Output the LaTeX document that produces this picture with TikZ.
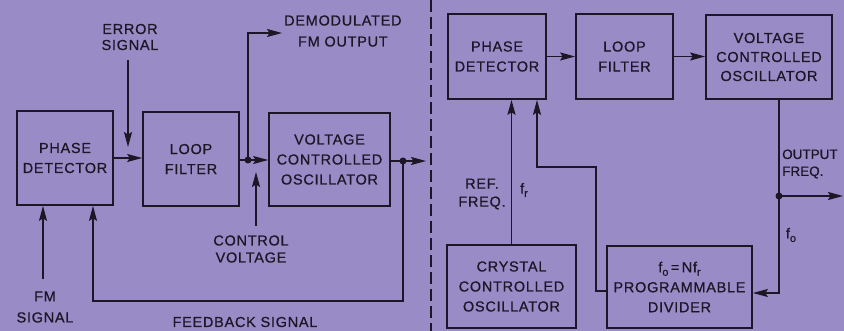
\documentclass[tikz,border=0pt]{standalone}
\usepackage{fontspec}
\setmainfont{Liberation Sans}[LetterSpace=5, FakeBold=0.6]
\usetikzlibrary{arrows.meta}
\definecolor{bg}{RGB}{153,139,198}
\definecolor{ink}{RGB}{28,22,38}
\newcommand\fz[1]{\fontsize{14.5}{#1}\selectfont}
\newcommand\sub[1]{\raisebox{-3.5pt}{\fontsize{11}{11}\selectfont #1}}
\tikzset{
  box/.style={draw=ink, line width=1.7pt, inner sep=0pt, align=center, text=ink, font=\fz{20}},
  wire/.style={draw=ink, line width=1.6pt},
  arr/.style={wire, -{Stealth[length=15pt,width=8pt,inset=2.5pt]}},
  lbl/.style={text=ink, align=center, inner sep=0pt, font=\fz{20}},
  dot/.style={circle, fill=ink, inner sep=0pt, minimum size=7pt},
}
\begin{document}
\begin{tikzpicture}[x=1pt,y=-1pt]
\fill[bg] (0,0) rectangle (844,331);
\useasboundingbox (0,0) rectangle (844,331);

% ---------- left: FM demodulator ----------
\node[box, minimum width=96pt, minimum height=94pt] (lpd) at (65,158) {PHASE\\DETECTOR};
\node[box, minimum width=96pt, minimum height=94pt] (llf) at (191,159) {LOOP\\FILTER};
\node[box, minimum width=121pt, minimum height=93pt] (lvco) at (329.5,159.5) {VOLTAGE\\CONTROLLED\\OSCILLATOR};

\coordinate (d1) at (248,160);
\coordinate (demo) at (282,33);
\coordinate (e0) at (128,60);
\coordinate (e1) at (128,147);
\coordinate (c0) at (256,226);
\coordinate (c1) at (256,172);
\coordinate (d2) at (403,161);
\coordinate (o1) at (426,161);
\coordinate (fbk) at (93,301);
\coordinate (fm) at (43,279);

\draw[arr] (lpd.east) -- (lpd.east -| llf.west);
\draw[arr] (llf.east |- d1) -- (lvco.west |- d1);
\draw[arr] (d1) -- (d1 |- demo) -- (demo);
\node[dot] (d1dot) at (d1) {};
\draw[arr] (e0) -- (e1);
\draw[arr] (c0) -- (c1);
\draw[arr] (lvco.east |- d2) -- (o1);
\node[dot] (d2dot) at (d2) {};
\draw[arr] (d2) -- (d2 |- fbk) -- (fbk) -- (fbk |- lpd.south);
\draw[arr] (fm) -- (fm |- lpd.south);

\node[lbl, font=\fz{21}, anchor=west] (demotxt) at (284,31) {DEMODULATED\\FM OUTPUT};
\node[lbl, font=\fz{16}] (errtxt) at (130,37) {ERROR\\SIGNAL};
\node[lbl, font=\fz{17}] (ctltxt) at (251,249) {CONTROL\\VOLTAGE};
\node[lbl, font=\fz{21}] (fmtxt) at (45,307) {FM\\SIGNAL};
\node[lbl] (fbtxt) at (245,322) {FEEDBACK SIGNAL};

% ---------- separator ----------
\draw[ink, line width=1.6pt, dash pattern=on 12pt off 5pt] (431,0) -- (431,331);

% ---------- right: frequency synthesizer ----------
\node[box, minimum width=98pt, minimum height=85pt] (rpd) at (497,56.5) {PHASE\\DETECTOR};
\node[box, minimum width=97pt, minimum height=85pt] (rlf) at (624.5,56.5) {LOOP\\FILTER};
\node[box, font=\fz{19}, minimum width=126pt, minimum height=84pt] (rvco) at (769,57) {VOLTAGE\\CONTROLLED\\OSCILLATOR};
\node[box, minimum width=129pt, minimum height=83pt] (xo) at (511.5,286.5) {CRYSTAL\\CONTROLLED\\OSCILLATOR};
\node[box, minimum width=145pt, minimum height=82pt] (div) at (679.5,287) {f\sub{o}\,=\,Nf\sub{r}\\PROGRAMMABLE\\DIVIDER};

\coordinate (d3) at (779,196);
\coordinate (out) at (843,196);
\coordinate (dv) at (779,293);
\coordinate (f1) at (596,291);
\coordinate (f2) at (537,167);

\draw[arr] (rpd.east) -- (rlf.west);
\draw[arr] (rlf.east) -- (rlf.east -| rvco.west);
\draw[arr] (rvco.south -| d3) -- (dv) -- (dv -| div.east);
\draw[arr] (d3) -- (out);
\node[dot] (d3dot) at (d3) {};
\draw[arr] (xo.north) -- (xo.north |- rpd.south);
\draw[arr] (div.west |- f1) -- (f1) -- (f1 |- f2) -- (f2) -- (f2 |- rpd.south);

\node[lbl, font={\fontsize{13.5}{17}\selectfont\addfontfeature{LetterSpace=0}}, align=left, anchor=west] (outtxt) at (782,164) {OUTPUT\\FREQ.};
\node[lbl] (fotxt) at (791,235) {f\sub{o}};
\node[lbl, font=\fz{18}] (reftxt) at (482,194) {REF.\\FREQ.};
\node[lbl] (frtxt) at (524,190) {f\sub{r}};
\end{tikzpicture}
\end{document}
